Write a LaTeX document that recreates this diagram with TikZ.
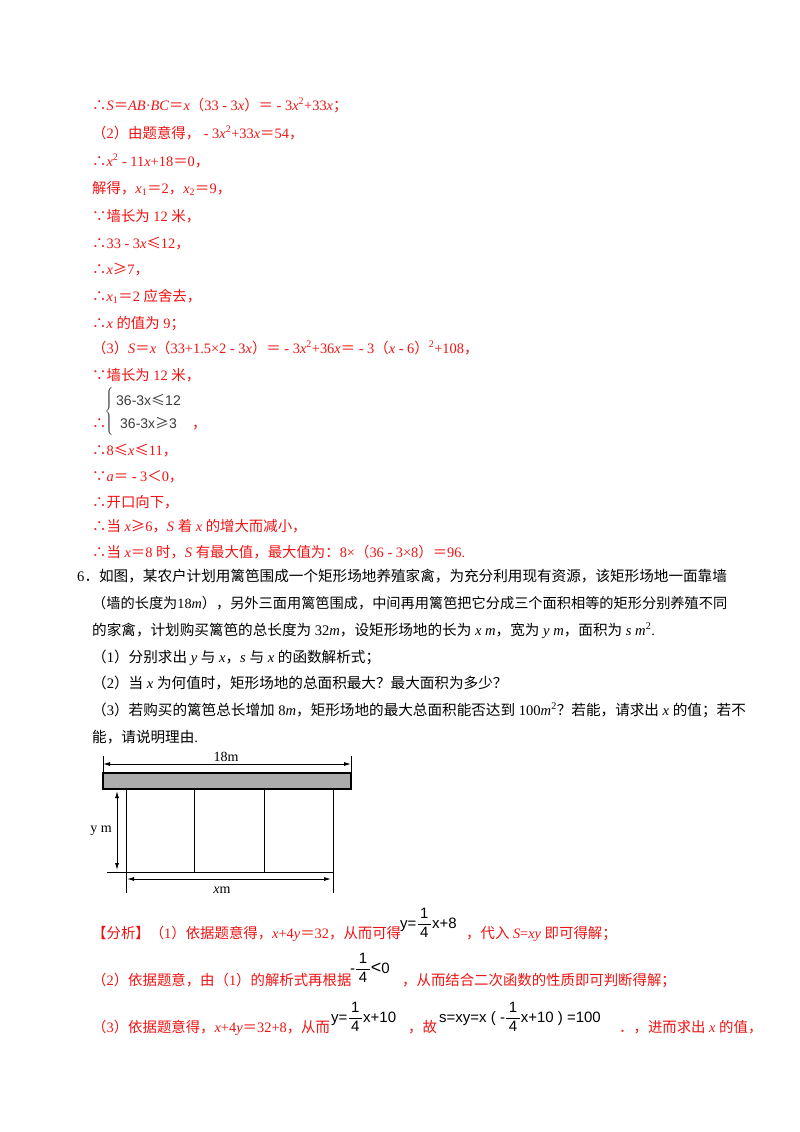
\documentclass[tikz,border=0pt]{standalone}
\usepackage{fontspec}
\usetikzlibrary{arrows.meta}
\setmainfont{Liberation Serif}
\setsansfont{Liberation Sans}
\newfontfamily\cjk{Noto Sans CJK SC}
\newXeTeXintercharclass\zhclass
\newcount\zhc
\def\zhrange#1#2{\zhc=#1\relax\loop\XeTeXcharclass\zhc=\zhclass\ifnum\zhc<#2\advance\zhc by 1\repeat}
\zhrange{"4E00}{"9FFF}
\zhrange{"3000}{"303F}
\zhrange{"FF00}{"FFEF}
\XeTeXcharclass"2234=\zhclass
\XeTeXcharclass"2235=\zhclass
\XeTeXcharclass"2264=\zhclass
\XeTeXcharclass"2265=\zhclass
\XeTeXinterchartoks 0 \zhclass = {\begingroup\cjk}
\XeTeXinterchartoks 4095 \zhclass = {\begingroup\cjk}
\XeTeXinterchartoks \zhclass 0 = {\endgroup}
\XeTeXinterchartoks \zhclass 4095 = {\endgroup}
\XeTeXinterchartokenstate=1
\definecolor{ans}{RGB}{238,20,20}
\definecolor{eqg}{RGB}{60,60,60}
\newcommand\ti[1]{\textit{#1}}
\newcommand\sq{\textsuperscript{2}}
\newcommand\fr[2]{\ensuremath{\displaystyle\frac{\hbox{\,#1\,}}{\hbox{\,#2\,}}}}
\tikzset{
 ans/.style={anchor=base west,inner sep=0pt,text=ans,font=\fontsize{14.4}{17}\selectfont},
 prob/.style={anchor=base west,inner sep=0pt,text=black,font=\fontsize{14.6}{17}\selectfont},
 frm/.style={anchor=west,inner sep=0pt,text=black,font=\fontsize{15}{17}\sffamily},
 sy/.style={anchor=base west,inner sep=0pt,text=eqg,font=\fontsize{14}{16}\sffamily},
 ln/.style={line width=0.9pt,black},
 dim/.style={line width=0.9pt,black,{Latex[length=7pt,width=4pt]}-{Latex[length=7pt,width=4pt]}},
 lab/.style={inner sep=0pt,font=\fontsize{14}{16}\selectfont}
}
\begin{document}
\begin{tikzpicture}[x=1pt,y=-1pt]
\useasboundingbox[fill=white] (0,0) rectangle (800,1132);
% answer part
\node[ans] (a1) at (92,110) {∴\ti{S}＝\ti{AB}·\ti{BC}＝\ti{x}（33 - 3\ti{x}）＝ - 3\ti{x}\sq+33\ti{x}；};
\node[ans] (a2) at (92,138) {（2）由题意得， - 3\ti{x}\sq+33\ti{x}＝54，};
\node[ans] (a3) at (92,166) {∴\ti{x}\sq{} - 11\ti{x}+18＝0，};
\node[ans] (a4) at (92,193) {解得，\ti{x}\textsubscript{1}＝2，\ti{x}\textsubscript{2}＝9，};
\node[ans] (a5) at (92,221) {∵墙长为 12 米，};
\node[ans] (a6) at (92,248) {∴33 - 3\ti{x}≤12，};
\node[ans] (a7) at (92,274) {∴\ti{x}≥7，};
\node[ans] (a8) at (92,301) {∴\ti{x}\textsubscript{1}＝2 应舍去，};
\node[ans] (a9) at (92,328) {∴\ti{x} 的值为 9；};
\node[ans] (a10) at (92,353) {（3）\ti{S}＝\ti{x}（33+1.5×2 - 3\ti{x}）＝ - 3\ti{x}\sq+36\ti{x}＝ - 3（\ti{x} - 6）\sq+108，};
\node[ans] (a11) at (92,380) {∵墙长为 12 米，};
\node[ans] (a12) at (92,428) {∴};
\node[sy] (s1) at (116,405) {36-3x≤12};
\node[sy] (s2) at (120,428) {36-3x≥3};
\node[anchor=east,inner sep=0pt,text=eqg] (br) at (115,411) {$\left\{\vbox to 27pt{}\right.$};
\node[ans] (a13) at (192,428) {，};
\node[ans] (a14) at (92,455) {∴8≤\ti{x}≤11，};
\node[ans] (a15) at (92,481) {∵\ti{a}＝ - 3＜0，};
\node[ans] (a16) at (92,507) {∴开口向下，};
\node[ans] (a17) at (92,531) {∴当 \ti{x}≥6，\ti{S} 着 \ti{x} 的增大而减小，};
\node[ans] (a18) at (92,557) {∴当 \ti{x}＝8 时，\ti{S} 有最大值，最大值为：8×（36 - 3×8）＝96.};
% problem
\node[prob] (p1) at (77,581) {6．如图，某农户计划用篱笆围成一个矩形场地养殖家禽，为充分利用现有资源，该矩形场地一面靠墙};
\node[prob,font=\fontsize{14.2}{17}\selectfont] (p2) at (92,608) {（墙的长度为18\ti{m}），另外三面用篱笆围成，中间再用篱笆把它分成三个面积相等的矩形分别养殖不同};
\node[prob] (p3) at (92,635) {的家禽，计划购买篱笆的总长度为 32\ti{m}，设矩形场地的长为 \ti{x m}，宽为 \ti{y m}，面积为 \ti{s m}\sq.};
\node[prob] (p4) at (92,662) {（1）分别求出 \ti{y} 与 \ti{x}，\ti{s} 与 \ti{x} 的函数解析式；};
\node[prob] (p5) at (92,688) {（2）当 \ti{x} 为何值时，矩形场地的总面积最大？最大面积为多少？};
\node[prob] (p6) at (92,715) {（3）若购买的篱笆总长增加 8\ti{m}，矩形场地的最大总面积能否达到 100\ti{m}\sq？若能，请求出 \ti{x} 的值；若不};
\node[prob] (p7) at (92,742) {能，请说明理由.};
% figure
\coordinate (wtl) at (103,773); \coordinate (wbr) at (351,789);
\fill[gray!65] (wtl) rectangle (wbr);
\draw[line width=1.2pt] (wtl) rectangle (wbr);
\coordinate (t1) at (103,756); \coordinate (t2) at (351,756);
\coordinate (d1) at (103,764); \coordinate (d2) at (351,764);
\draw[ln] (t1) -- (103,773); \draw[ln] (t2) -- (351,773);
\draw[dim] (d1) -- (d2);
\node[lab] (l18) at (226,757) {18m};
\coordinate (v1a) at (126,789); \coordinate (v1b) at (126,893);
\coordinate (v2a) at (194,789); \coordinate (v2b) at (194,872);
\coordinate (v3a) at (264,789); \coordinate (v3b) at (264,872);
\coordinate (v4a) at (333,789); \coordinate (v4b) at (333,893);
\draw[ln] (v1a) -- (v1b); \draw[ln] (v2a) -- (v2b);
\draw[ln] (v3a) -- (v3b); \draw[ln] (v4a) -- (v4b);
\coordinate (g1) at (107,872); \coordinate (g2) at (333,872);
\draw[ln] (g1) -- (g2);
\coordinate (y1) at (117,791); \coordinate (y2) at (117,870);
\draw[dim] (y1) -- (y2);
\node[lab] (ly) at (101,831) {y m};
\coordinate (x1) at (127,879); \coordinate (x2) at (331,879);
\draw[dim] (x1) -- (x2);
\node[lab] (lx) at (222,890) {\ti{x}m};
% analysis
\node[ans] (n1) at (92,938) {【分析】（1）依据题意得，\ti{x}+4\ti{y}＝32，从而可得};
\node[frm] (f1) at (400,923) {y=\fr{1}{4}x+8};
\node[ans] (n1b) at (466,938) {，代入 \ti{S}=\ti{xy} 即可得解；};
\node[ans] (n2) at (92,985) {（2）依据题意，由（1）的解析式再根据};
\node[frm] (f2) at (350,968) {-\fr{1}{4}{\fontsize{18}{18}\selectfont<}0};
\node[ans] (n2b) at (402,985) {，从而结合二次函数的性质即可判断得解；};
\node[ans] (n3) at (92,1032) {（3）依据题意得，\ti{x}+4\ti{y}＝32+8，从而};
\node[frm] (f3) at (331,1017) {y=\fr{1}{4}x+10};
\node[ans] (n3b) at (408,1032) {，故};
\node[frm] (f4) at (439,1017) {s=xy=x ( -\fr{1}{4}x+10 ) =100};
\node[ans] (n3c) at (619,1032) {．，进而求出 \ti{x} 的值，};
\end{tikzpicture}
\end{document}
